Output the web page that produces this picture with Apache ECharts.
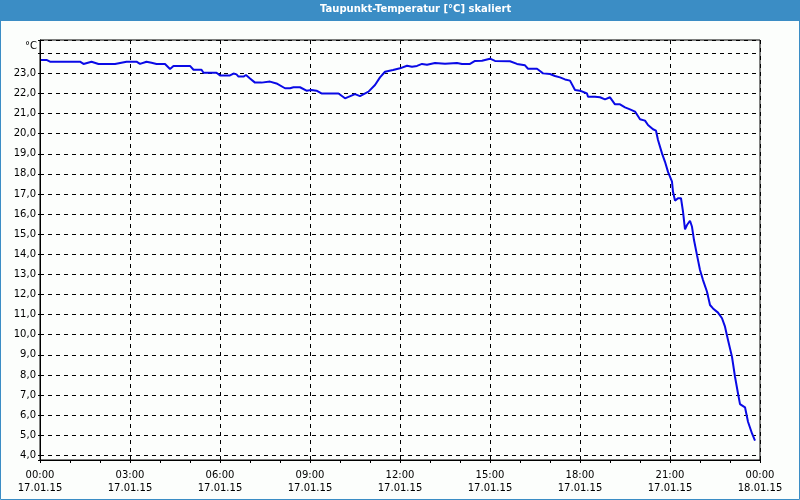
<!DOCTYPE html>
<html><head><meta charset="utf-8">
<script src="https://cdn.jsdelivr.net/npm/echarts@6/dist/echarts.min.js"></script>
<style>html,body{margin:0;padding:0;background:#fcfefc}#c{width:800px;height:500px}</style>
</head><body><div id="c"></div><script>
// minutes since 17.01.15 00:00
const minutes = [2,13,20,80,87,103,117,150,153,173,193,200,213,223,233,250,260,267,300,307,323,327,353,360,380,387,393,397,407,412,420,430,443,447,460,473,490,500,507,520,533,543,553,563,597,610,630,640,657,670,680,690,694,706,720,734,744,754,764,774,790,810,834,844,860,870,884,900,910,940,954,970,976,994,1000,1006,1020,1030,1040,1050,1060,1070,1080,1094,1096,1110,1120,1130,1140,1150,1160,1170,1180,1190,1200,1210,1216,1226,1232,1236,1244,1250,1256,1264,1266,1270,1276,1282,1286,1290,1294,1300,1304,1308,1314,1320,1326,1334,1340,1346,1356,1364,1370,1376,1384,1390,1396,1400,1410,1416,1424,1430];
const dewpoint = [23.67,23.67,23.58,23.58,23.47,23.58,23.47,23.47,23.53,23.58,23.58,23.47,23.58,23.53,23.47,23.47,23.22,23.37,23.37,23.18,23.18,23.03,23.03,22.90,22.90,22.99,22.95,22.84,22.84,22.92,22.75,22.54,22.54,22.59,22.59,22.50,22.26,22.26,22.31,22.31,22.14,22.17,22.14,22.00,22.00,21.76,21.97,21.87,22.09,22.42,22.80,23.08,23.13,23.17,23.25,23.38,23.33,23.37,23.47,23.43,23.52,23.48,23.52,23.47,23.47,23.62,23.63,23.73,23.62,23.60,23.47,23.40,23.23,23.23,23.12,23.00,22.97,22.87,22.80,22.70,22.64,22.17,22.14,22.00,21.84,21.84,21.81,21.71,21.81,21.46,21.46,21.31,21.21,21.10,20.72,20.65,20.43,20.22,20.15,19.69,19.02,18.60,18.10,17.61,17.11,16.67,16.79,16.79,16.12,15.24,15.46,15.67,15.37,14.71,13.96,13.22,12.72,12.14,11.48,11.31,11.10,10.82,10.40,9.74,8.90,7.91,7.08,6.55,6.39,5.67,5.09,4.73];
const xTickHours = ['00:00','03:00','06:00','09:00','12:00','15:00','18:00','21:00','00:00'];
const xTickDates = ['17.01.15','17.01.15','17.01.15','17.01.15','17.01.15','17.01.15','17.01.15','17.01.15','18.01.15'];
const yLabelMax = 23;
const titleText = 'Taupunkt-Temperatur [°C] skaliert';
const unitText = '°C';
const yMin = 3.77, yMax = 24.66;

const blue = '#3b8dc5';
const font = 'DejaVu Sans';
const chart = echarts.init(document.getElementById('c'), null, {renderer: 'canvas'});
chart.setOption({
  animation: false,
  backgroundColor: '#fcfefc',
  title: {
    text: titleText, left: 320, top: 4, padding: 0,
    textStyle: {color: '#ffffff', fontSize: 10, fontWeight: 'bold', fontFamily: font}
  },
  graphic: [
    {type: 'rect', z: -1, shape: {x: 0, y: 0, width: 800, height: 21}, style: {fill: blue}},
    {type: 'rect', z: -1, shape: {x: 0.5, y: 0.5, width: 799, height: 499}, style: {fill: null, stroke: blue, lineWidth: 1}},
    {type: 'text', left: 25, top: 41, style: {text: unitText, fill: '#000', font: '10px "DejaVu Sans"'}}
  ],
  grid: {left: 40, right: 40, top: 40, bottom: 40, show: true, borderColor: '#000', borderWidth: 1, backgroundColor: 'transparent'},
  xAxis: {
    type: 'value', min: 0, max: 24, interval: 3,
    axisLine: {lineStyle: {color: '#000', width: 1}},
    axisTick: {show: true, length: 3, lineStyle: {color: '#000'}},
    minorTick: {show: true, splitNumber: 3, length: 3, lineStyle: {color: '#000'}},
    splitLine: {show: true, lineStyle: {color: '#000', width: 1, type: [4, 4]}},
    axisLabel: {
      color: '#000', fontFamily: font, fontSize: 10, lineHeight: 13, margin: 9,
      formatter: v => { const i = Math.round(v / 3); return xTickHours[i] + '\n' + xTickDates[i]; }
    }
  },
  yAxis: {
    type: 'value', min: yMin, max: yMax, splitNumber: 20,
    axisLine: {show: true, lineStyle: {color: '#000', width: 1}},
    axisTick: {show: true, length: 2, lineStyle: {color: '#000'}},
    splitLine: {show: true, lineStyle: {color: '#000', width: 1, type: [4, 4]}},
    axisLabel: {
      color: '#000', fontFamily: font, fontSize: 10, margin: 4,
      formatter: v => (Math.abs(v - Math.round(v)) < 1e-6 && v <= yLabelMax + 1e-6) ? v.toFixed(1).replace('.', ',') : ''
    }
  },
  series: [{
    type: 'line', showSymbol: false, silent: true,
    data: minutes.map((m, i) => [m / 60, dewpoint[i]]),
    lineStyle: {color: '#0a0ae6', width: 2}
  }]
});
</script></body></html>
